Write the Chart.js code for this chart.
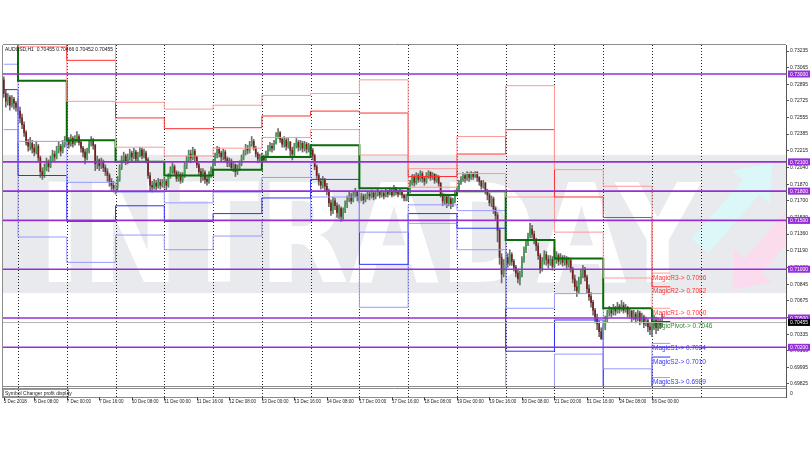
<!DOCTYPE html>
<html>
<head>
<meta charset="utf-8">
<script src="https://cdn.jsdelivr.net/npm/chart.js@4.4.1/dist/chart.umd.min.js"></script>
<style>
  html, body { margin: 0; padding: 0; background: #fff; }
  canvas { display: block; }
</style>
</head>
<body>
<canvas id="chartAud" width="810" height="450"></canvas>
<script>
// AUDUSD H1, 5 - 26 Dec 2018, with the daily "Magic" pivot levels

// first bar of each trading day (5 Dec is partial, 25 Dec is missing)
const dayStartBars = [0, 7, 31, 55, 79, 103, 127, 151, 175, 199, 223, 247, 271, 295, 319];
const levelEndBar = 328;

const r3Levels = [0.7445, 0.7425, 0.7355, 0.7271, 0.7264, 0.7268, 0.7278, 0.7280, 0.7294, 0.7203, 0.7236, 0.7288, 0.7202, 0.7185, 0.7096];
const r2Levels = [0.7419, 0.7390, 0.7314, 0.7255, 0.7244, 0.7245, 0.7257, 0.7262, 0.7260, 0.7195, 0.7218, 0.7243, 0.7174, 0.7153, 0.7082];
const r1Levels = [0.7378, 0.7328, 0.7272, 0.7225, 0.7216, 0.7224, 0.7235, 0.7243, 0.7217, 0.7184, 0.7198, 0.7174, 0.7138, 0.7091, 0.7060];
const pivotLevels = [0.7352, 0.7293, 0.7232, 0.7210, 0.7196, 0.7202, 0.7215, 0.7227, 0.7183, 0.7176, 0.7180, 0.7130, 0.7111, 0.7060, 0.7046];
const s1Levels = [0.7310, 0.7231, 0.7189, 0.7179, 0.7168, 0.7179, 0.7194, 0.7209, 0.7138, 0.7166, 0.7160, 0.7060, 0.7075, 0.6998, 0.7024];
const s2Levels = [0.7284, 0.7196, 0.7149, 0.7165, 0.7149, 0.7157, 0.7173, 0.7192, 0.7105, 0.7157, 0.7142, 0.7016, 0.7048, 0.6967, 0.7010];
const s3Levels = [0.7243, 0.7133, 0.7107, 0.7135, 0.7120, 0.7134, 0.7150, 0.7174, 0.7061, 0.7147, 0.7120, 0.6946, 0.7013, 0.6905, 0.6989];

// hourly candles, one line per day; each bar opens at the previous close
const firstOpen = 0.7294;
const closes = [
  0.7280, 0.7272, 0.7276, 0.7268, 0.7274, 0.7270, 0.7266,
  0.7262, 0.7255, 0.7248, 0.7240, 0.7230, 0.7226, 0.7229, 0.7224, 0.7220, 0.7226, 0.7214, 0.7200, 0.7196, 0.7203, 0.7209, 0.7205, 0.7212, 0.7218, 0.7215, 0.7222, 0.7226, 0.7221, 0.7228, 0.7230,
  0.7232, 0.7228, 0.7234, 0.7229, 0.7233, 0.7236, 0.7230, 0.7224, 0.7220, 0.7214, 0.7221, 0.7228, 0.7232, 0.7227, 0.7208, 0.7212, 0.7206, 0.7210, 0.7204, 0.7200, 0.7196, 0.7190, 0.7186, 0.7183,
  0.7183, 0.7192, 0.7204, 0.7212, 0.7216, 0.7210, 0.7214, 0.7219, 0.7215, 0.7220, 0.7213, 0.7217, 0.7222, 0.7216, 0.7219, 0.7212, 0.7196, 0.7186, 0.7184, 0.7188, 0.7185, 0.7189, 0.7186, 0.7188,
  0.7190, 0.7186, 0.7195, 0.7201, 0.7205, 0.7199, 0.7193, 0.7197, 0.7191, 0.7196, 0.7206, 0.7212, 0.7218, 0.7214, 0.7221, 0.7215, 0.7207, 0.7200, 0.7195, 0.7199, 0.7192, 0.7190, 0.7197, 0.7201,
  0.7208, 0.7216, 0.7223, 0.7219, 0.7215, 0.7220, 0.7213, 0.7209, 0.7211, 0.7204, 0.7207, 0.7200, 0.7203, 0.7208, 0.7214, 0.7219, 0.7224, 0.7222, 0.7228, 0.7231, 0.7224, 0.7218, 0.7213, 0.7214,
  0.7215, 0.7212, 0.7218, 0.7223, 0.7226, 0.7224, 0.7229, 0.7236, 0.7240, 0.7233, 0.7228, 0.7232, 0.7226, 0.7230, 0.7222, 0.7218, 0.7226, 0.7230, 0.7225, 0.7229, 0.7224, 0.7228, 0.7223, 0.7225,
  0.7222, 0.7216, 0.7205, 0.7196, 0.7190, 0.7186, 0.7191, 0.7185, 0.7180, 0.7168, 0.7160, 0.7170, 0.7165, 0.7158, 0.7162, 0.7154, 0.7160, 0.7166, 0.7171, 0.7175, 0.7170, 0.7176, 0.7179, 0.7174,
  0.7172, 0.7175, 0.7171, 0.7174, 0.7177, 0.7175, 0.7178, 0.7174, 0.7176, 0.7179, 0.7176, 0.7178, 0.7175, 0.7179, 0.7177, 0.7180, 0.7176, 0.7183, 0.7179, 0.7177, 0.7180, 0.7176, 0.7173, 0.7174,
  0.7180, 0.7188, 0.7194, 0.7189, 0.7196, 0.7192, 0.7198, 0.7193, 0.7190, 0.7196, 0.7199, 0.7194, 0.7197, 0.7191, 0.7195, 0.7188, 0.7176, 0.7170, 0.7174, 0.7168, 0.7172, 0.7166, 0.7170, 0.7178,
  0.7182, 0.7188, 0.7192, 0.7196, 0.7193, 0.7197, 0.7194, 0.7198, 0.7195, 0.7199, 0.7194, 0.7190, 0.7185, 0.7188, 0.7180, 0.7176, 0.7168, 0.7172, 0.7162, 0.7155, 0.7140, 0.7112, 0.7095, 0.7104,
  0.7112, 0.7106, 0.7115, 0.7108, 0.7102, 0.7096, 0.7090, 0.7094, 0.7110, 0.7120, 0.7127, 0.7134, 0.7141, 0.7136, 0.7130, 0.7124, 0.7114, 0.7100, 0.7108, 0.7115, 0.7110, 0.7106, 0.7110, 0.7103,
  0.7110, 0.7114, 0.7108, 0.7112, 0.7107, 0.7111, 0.7105, 0.7109, 0.7100, 0.7090, 0.7082, 0.7078, 0.7088, 0.7095, 0.7100, 0.7092, 0.7080, 0.7072, 0.7066, 0.7058, 0.7050, 0.7044, 0.7036, 0.7029,
  0.7040, 0.7048, 0.7055, 0.7058, 0.7055, 0.7060, 0.7057, 0.7062, 0.7059, 0.7063, 0.7058, 0.7061, 0.7054, 0.7057, 0.7050, 0.7054, 0.7049, 0.7055, 0.7047, 0.7051, 0.7044, 0.7047, 0.7041, 0.7038,
  0.7042, 0.7048, 0.7040, 0.7046, 0.7043, 0.70455, 0.70455
];
const highs = [
  0.7297, 0.7284, 0.7280, 0.7278, 0.7278, 0.7276, 0.7272,
  0.7275, 0.7266, 0.7259, 0.7251, 0.7242, 0.7233, 0.7235, 0.7232, 0.7228, 0.7231, 0.7228, 0.7216, 0.7204, 0.7208, 0.7214, 0.7212, 0.7216, 0.7222, 0.7221, 0.7226, 0.7231, 0.7228, 0.7232, 0.7236,
  0.7238, 0.7235, 0.7238, 0.7236, 0.7237, 0.7241, 0.7238, 0.7232, 0.7226, 0.7223, 0.7224, 0.7231, 0.7236, 0.7234, 0.7228, 0.7216, 0.7213, 0.7214, 0.7212, 0.7207, 0.7203, 0.7198, 0.7193, 0.7190,
  0.7186, 0.7195, 0.7207, 0.7216, 0.7220, 0.7218, 0.7218, 0.7223, 0.7221, 0.7224, 0.7222, 0.7220, 0.7225, 0.7224, 0.7223, 0.7221, 0.7214, 0.7199, 0.7190, 0.7192, 0.7191, 0.7193, 0.7192, 0.7192,
  0.7194, 0.7192, 0.7198, 0.7205, 0.7209, 0.7207, 0.7201, 0.7200, 0.7199, 0.7199, 0.7209, 0.7216, 0.7222, 0.7222, 0.7225, 0.7223, 0.7216, 0.7209, 0.7203, 0.7203, 0.7201, 0.7196, 0.7200, 0.7205,
  0.7212, 0.7219, 0.7226, 0.7225, 0.7221, 0.7223, 0.7222, 0.7215, 0.7214, 0.7213, 0.7210, 0.7208, 0.7207, 0.7211, 0.7217, 0.7222, 0.7228, 0.7227, 0.7231, 0.7236, 0.7233, 0.7226, 0.7220, 0.7218,
  0.7219, 0.7217, 0.7221, 0.7227, 0.7230, 0.7229, 0.7232, 0.7240, 0.7244, 0.7241, 0.7235, 0.7236, 0.7234, 0.7234, 0.7231, 0.7225, 0.7229, 0.7234, 0.7232, 0.7232, 0.7231, 0.7231, 0.7230, 0.7229,
  0.7227, 0.7224, 0.7218, 0.7207, 0.7198, 0.7193, 0.7195, 0.7193, 0.7188, 0.7182, 0.7171, 0.7174, 0.7173, 0.7168, 0.7166, 0.7164, 0.7163, 0.7170, 0.7175, 0.7179, 0.7178, 0.7180, 0.7183, 0.7180,
  0.7177, 0.7178, 0.7177, 0.7177, 0.7180, 0.7179, 0.7181, 0.7179, 0.7179, 0.7182, 0.7180, 0.7181, 0.7180, 0.7182, 0.7181, 0.7183, 0.7182, 0.7186, 0.7184, 0.7181, 0.7182, 0.7181, 0.7177, 0.7177,
  0.7182, 0.7191, 0.7197, 0.7197, 0.7199, 0.7198, 0.7201, 0.7200, 0.7195, 0.7199, 0.7201, 0.7200, 0.7199, 0.7198, 0.7197, 0.7196, 0.7189, 0.7178, 0.7177, 0.7176, 0.7175, 0.7174, 0.7173, 0.7181,
  0.7184, 0.7191, 0.7195, 0.7199, 0.7198, 0.7200, 0.7199, 0.7200, 0.7199, 0.7200, 0.7200, 0.7195, 0.7191, 0.7191, 0.7189, 0.7182, 0.7178, 0.7175, 0.7174, 0.7164, 0.7158, 0.7142, 0.7116, 0.7110,
  0.7118, 0.7116, 0.7120, 0.7117, 0.7110, 0.7104, 0.7099, 0.7098, 0.7113, 0.7123, 0.7130, 0.7137, 0.7147, 0.7145, 0.7139, 0.7132, 0.7127, 0.7116, 0.7112, 0.7119, 0.7118, 0.7114, 0.7114, 0.7113,
  0.7122, 0.7118, 0.7116, 0.7116, 0.7114, 0.7114, 0.7113, 0.7112, 0.7111, 0.7102, 0.7094, 0.7088, 0.7092, 0.7099, 0.7104, 0.7102, 0.7094, 0.7084, 0.7076, 0.7068, 0.7060, 0.7054, 0.7047, 0.7040,
  0.7044, 0.7052, 0.7058, 0.7062, 0.7061, 0.7064, 0.7062, 0.7066, 0.7064, 0.7068, 0.7066, 0.7064, 0.7062, 0.7060, 0.7058, 0.7058, 0.7056, 0.7058, 0.7057, 0.7055, 0.7053, 0.7051, 0.7049, 0.7045,
  0.7050, 0.7053, 0.7051, 0.7050, 0.7049, 0.7054, 0.70466
];
const lows = [
  0.7276, 0.7266, 0.7268, 0.7263, 0.7266, 0.7264, 0.7262,
  0.7258, 0.7250, 0.7244, 0.7236, 0.7227, 0.7221, 0.7222, 0.7219, 0.7216, 0.7218, 0.7210, 0.7194, 0.7192, 0.7194, 0.7201, 0.7200, 0.7204, 0.7210, 0.7211, 0.7213, 0.7219, 0.7216, 0.7219, 0.7225,
  0.7226, 0.7224, 0.7226, 0.7225, 0.7227, 0.7230, 0.7227, 0.7220, 0.7215, 0.7208, 0.7212, 0.7219, 0.7226, 0.7223, 0.7201, 0.7203, 0.7201, 0.7203, 0.7200, 0.7196, 0.7190, 0.7185, 0.7181, 0.7179,
  0.7177, 0.7181, 0.7190, 0.7202, 0.7209, 0.7207, 0.7208, 0.7212, 0.7211, 0.7213, 0.7210, 0.7211, 0.7215, 0.7213, 0.7214, 0.7209, 0.7193, 0.7180, 0.7179, 0.7182, 0.7181, 0.7183, 0.7182, 0.7184,
  0.7183, 0.7181, 0.7184, 0.7193, 0.7198, 0.7196, 0.7190, 0.7190, 0.7188, 0.7189, 0.7194, 0.7203, 0.7210, 0.7209, 0.7212, 0.7211, 0.7204, 0.7197, 0.7189, 0.7191, 0.7188, 0.7186, 0.7188, 0.7194,
  0.7199, 0.7206, 0.7214, 0.7215, 0.7211, 0.7212, 0.7210, 0.7205, 0.7205, 0.7201, 0.7200, 0.7195, 0.7197, 0.7201, 0.7206, 0.7212, 0.7217, 0.7218, 0.7219, 0.7226, 0.7222, 0.7215, 0.7209, 0.7210,
  0.7211, 0.7210, 0.7211, 0.7216, 0.7221, 0.7220, 0.7222, 0.7228, 0.7234, 0.7230, 0.7225, 0.7225, 0.7222, 0.7224, 0.7216, 0.7212, 0.7216, 0.7224, 0.7221, 0.7222, 0.7220, 0.7221, 0.7219, 0.7220,
  0.7218, 0.7212, 0.7202, 0.7193, 0.7186, 0.7182, 0.7183, 0.7180, 0.7176, 0.7164, 0.7155, 0.7157, 0.7161, 0.7153, 0.7152, 0.7149, 0.7151, 0.7158, 0.7163, 0.7169, 0.7167, 0.7169, 0.7174, 0.7170,
  0.7168, 0.7170, 0.7167, 0.7169, 0.7172, 0.7171, 0.7173, 0.7171, 0.7172, 0.7175, 0.7173, 0.7174, 0.7172, 0.7174, 0.7174, 0.7176, 0.7174, 0.7175, 0.7176, 0.7174, 0.7176, 0.7173, 0.7170, 0.7170,
  0.7170, 0.7178, 0.7186, 0.7185, 0.7187, 0.7189, 0.7190, 0.7189, 0.7186, 0.7188, 0.7193, 0.7191, 0.7192, 0.7188, 0.7189, 0.7185, 0.7174, 0.7165, 0.7166, 0.7163, 0.7165, 0.7162, 0.7164, 0.7168,
  0.7175, 0.7180, 0.7187, 0.7190, 0.7189, 0.7191, 0.7190, 0.7192, 0.7192, 0.7194, 0.7190, 0.7186, 0.7182, 0.7183, 0.7177, 0.7171, 0.7165, 0.7164, 0.7157, 0.7150, 0.7128, 0.7105, 0.7086, 0.7092,
  0.7098, 0.7102, 0.7104, 0.7104, 0.7098, 0.7092, 0.7086, 0.7084, 0.7092, 0.7107, 0.7117, 0.7124, 0.7132, 0.7132, 0.7126, 0.7119, 0.7110, 0.7096, 0.7098, 0.7105, 0.7104, 0.7101, 0.7104, 0.7099,
  0.7102, 0.7106, 0.7104, 0.7105, 0.7103, 0.7104, 0.7101, 0.7102, 0.7097, 0.7086, 0.7078, 0.7072, 0.7075, 0.7085, 0.7091, 0.7088, 0.7076, 0.7068, 0.7061, 0.7053, 0.7045, 0.7038, 0.7031, 0.7028,
  0.7028, 0.7038, 0.7046, 0.7052, 0.7051, 0.7053, 0.7053, 0.7055, 0.7055, 0.7057, 0.7055, 0.7056, 0.7051, 0.7051, 0.7046, 0.7048, 0.7045, 0.7047, 0.7043, 0.7045, 0.7040, 0.7042, 0.7036, 0.7033,
  0.7031, 0.7038, 0.7034, 0.7037, 0.7039, 0.7041, 0.70452
];

const timeTickBars = [0, 15, 31, 47, 63, 79, 95, 111, 127, 143, 159, 175, 191, 207, 223, 239, 255, 271, 287, 303, 319];
const timeTickLabels = ['5 Dec 2018', '6 Dec 08:00', '7 Dec 00:00', '7 Dec 16:00', '10 Dec 08:00', '11 Dec 00:00',
  '11 Dec 16:00', '12 Dec 08:00', '13 Dec 00:00', '13 Dec 16:00', '14 Dec 08:00', '17 Dec 00:00', '17 Dec 16:00',
  '18 Dec 08:00', '19 Dec 00:00', '19 Dec 16:00', '20 Dec 08:00', '21 Dec 00:00', '21 Dec 16:00', '24 Dec 08:00', '26 Dec 00:00'];
const separatorBars = [7, 31, 55, 79, 103, 127, 151, 175, 199, 223, 247, 271, 295, 319, 343];

const priceTicks = [0.73235, 0.73065, 0.72895, 0.72725, 0.72555, 0.72385, 0.72215, 0.72040, 0.71870, 0.71700,
  0.71530, 0.71360, 0.71190, 0.71020, 0.70845, 0.70675, 0.70505, 0.70335, 0.70165, 0.69995, 0.69825];
const roundLevels = [0.73000, 0.72100, 0.71800, 0.71500, 0.71000, 0.70500, 0.70200];
const bidPrice = 0.70455;
const lastBar = [0.70455, 0.70466, 0.70452, 0.70455];

const magicNames = ['MagicR3', 'MagicR2', 'MagicR1', 'MagicPivot', 'MagicS1', 'MagicS2', 'MagicS3'];

// colours
const bullColor = '#3aa84a';
const bearColor = '#7a1c1c';
const wickColor = '#6e6e6e';
const redSoft = '#ff9a9a';
const redHard = '#ff3030';
const blueSoft = '#9a9aff';
const blueHard = '#3030ff';
const pivotColor = '#0b6b0b';

const opens = closes.map((c, i) => i === 0 ? firstOpen : closes[i - 1]);
const wickData = closes.map((c, i) => ({ x: i, y: [lows[i], highs[i]] }));
const bodyData = closes.map((c, i) => ({ x: i, y: [opens[i], c] }));
const bodyColors = closes.map((c, i) => c >= opens[i] ? bullColor : bearColor);

function levelSteps(levels) {
    const pts = levels.map((v, k) => ({ x: dayStartBars[k], y: v }));
    pts.push({ x: levelEndBar, y: levels[levels.length - 1] });
    return pts;
}

function levelLine(levels, color, width) {
    return {
        type: 'line',
        data: levelSteps(levels),
        borderColor: color,
        borderWidth: width,
        pointRadius: 0,
        stepped: true,
        fill: false,
        order: 1
    };
}

function arrow(ctx, x0, y0, x1, y1, sw, hw, hl) {
    const len = Math.hypot(x1 - x0, y1 - y0);
    const dx = (x1 - x0) / len, dy = (y1 - y0) / len;
    const nx = -dy, ny = dx;
    const bx = x1 - dx * hl, by = y1 - dy * hl;
    ctx.beginPath();
    ctx.moveTo(x0 + nx * sw, y0 + ny * sw);
    ctx.lineTo(bx + nx * sw, by + ny * sw);
    ctx.lineTo(bx + nx * hw, by + ny * hw);
    ctx.lineTo(x1, y1);
    ctx.lineTo(bx - nx * hw, by - ny * hw);
    ctx.lineTo(bx - nx * sw, by - ny * sw);
    ctx.lineTo(x0 - nx * sw, y0 - ny * sw);
    ctx.closePath();
    ctx.fill();
}

// watermark, subwindow and day separators, behind the candles
const backLayer = {
    id: 'backLayer',
    beforeDatasetsDraw(chart) {
        const { ctx, chartArea: a, scales: { x } } = chart;
        ctx.save();
        ctx.beginPath();
        ctx.rect(a.left, a.top, a.right - a.left, a.bottom - a.top);
        ctx.clip();
        ctx.fillStyle = '#e8eaed';
        ctx.fillRect(a.left, 155, a.right - a.left, 138);
        ctx.fillStyle = '#dbf7f7';
        arrow(ctx, 700, 246, 772, 163, 11, 25, 32);
        ctx.fillStyle = '#fbdcef';
        arrow(ctx, 800, 212, 732, 290, 11, 25, 32);
        ctx.font = 'bold 137px "DejaVu Sans"';
        ctx.textBaseline = 'alphabetic';
        const w = ctx.measureText('INTRADAY').width;
        ctx.translate(38, 282);
        ctx.scale(662 / w, 1);
        ctx.fillStyle = '#ffffff';
        ctx.fillText('INTRADAY', 0, 0);
        ctx.restore();

        // subwindow "Symbol Changer profit display"
        ctx.save();
        ctx.strokeStyle = '#8c8c8c';
        ctx.lineWidth = 1;
        ctx.beginPath();
        ctx.moveTo(a.left, 388.5); ctx.lineTo(a.right, 388.5);
        ctx.moveTo(a.left, 397.5); ctx.lineTo(a.right, 397.5);
        ctx.moveTo(a.left - 0.5, a.top); ctx.lineTo(a.left - 0.5, 398);
        ctx.moveTo(a.left, a.top - 0.5); ctx.lineTo(a.right, a.top - 0.5);
        ctx.stroke();
        ctx.strokeStyle = '#555';
        ctx.beginPath();
        ctx.moveTo(a.right + 0.5, 386); ctx.lineTo(a.right + 0.5, 398);
        ctx.stroke();
        ctx.strokeStyle = '#9a9a9a';
        ctx.strokeRect(3.5, 389.5, 65, 7);
        ctx.fillStyle = '#222';
        ctx.font = '5px "Liberation Sans"';
        ctx.textBaseline = 'middle';
        ctx.fillText('Symbol Changer profit display', 5, 393.2);
        ctx.fillText('0', a.right + 4, 393.2);

        // tick marks under the subwindow
        ctx.strokeStyle = '#333';
        ctx.beginPath();
        timeTickBars.forEach(b => {
            const px = Math.round(x.getPixelForValue(b)) + 0.5;
            ctx.moveTo(px, 397.5); ctx.lineTo(px, 400.5);
        });
        ctx.stroke();

        // period separators
        ctx.strokeStyle = '#222';
        ctx.setLineDash([1, 2]);
        ctx.beginPath();
        separatorBars.forEach(b => {
            const px = Math.round(x.getPixelForValue(b)) + 0.5;
            ctx.moveTo(px, a.top); ctx.lineTo(px, 397);
        });
        ctx.stroke();
        ctx.restore();
    }
};

// round number lines, bid line and the level labels, over the candles
const frontLayer = {
    id: 'frontLayer',
    afterDatasetsDraw(chart) {
        const { ctx, chartArea: a, scales: { x, y } } = chart;
        ctx.save();
        ctx.beginPath();
        ctx.rect(a.left, a.top, a.right - a.left, a.bottom - a.top);
        ctx.clip();
        ctx.strokeStyle = '#b4b4b4';
        ctx.lineWidth = 1;
        ctx.beginPath();
        const by = Math.round(y.getPixelForValue(bidPrice)) + 0.5;
        ctx.moveTo(a.left, by); ctx.lineTo(a.right, by);
        ctx.stroke();
        ctx.strokeStyle = '#9530d6';
        ctx.lineWidth = 1.6;
        ctx.beginPath();
        roundLevels.forEach(v => {
            const py = y.getPixelForValue(v);
            ctx.moveTo(a.left, py); ctx.lineTo(a.right, py);
        });
        ctx.stroke();

        const lastLevels = [r3Levels, r2Levels, r1Levels, pivotLevels, s1Levels, s2Levels, s3Levels].map(l => l[l.length - 1]);
        const labelColors = ['#ff3434', '#ff3434', '#ff3434', '#2b8a2b', '#3434ff', '#3434ff', '#3434ff'];
        const lx = x.getPixelForValue(dayStartBars[dayStartBars.length - 1]) + 1;
        ctx.font = '6.5px "Liberation Sans"';
        ctx.textBaseline = 'top';
        magicNames.forEach((n, k) => {
            ctx.fillStyle = labelColors[k];
            ctx.fillText(n + '-> ' + lastLevels[k].toFixed(4), lx, y.getPixelForValue(lastLevels[k]) + 1.5);
        });
        ctx.restore();
    },
    afterDraw(chart) {
        const { ctx, chartArea: a, scales: { y } } = chart;
        ctx.save();
        ctx.font = '5px "Liberation Sans"';
        ctx.textBaseline = 'middle';
        const tag = (v, bg) => {
            const py = y.getPixelForValue(v);
            ctx.fillStyle = bg;
            ctx.fillRect(a.right + 2, py - 3.5, 810 - a.right - 2, 7);
            ctx.fillStyle = '#fff';
            ctx.fillText(v.toFixed(5), a.right + 4, py + 0.3);
        };
        roundLevels.forEach(v => tag(v, '#9530d6'));
        tag(bidPrice, '#000');

        ctx.fillStyle = '#111';
        ctx.fillText('AUDUSD,H1  ' + lastBar.map(v => v.toFixed(5)).join(' '), 5, 49.5);
        ctx.restore();
    }
};

const configAud = document.getElementById('chartAud');

new Chart(configAud, {
    type: 'bar',
    data: {
        datasets: [
            levelLine(r3Levels, redSoft, 1),
            levelLine(r2Levels, redHard, 1),
            levelLine(r1Levels, redSoft, 1),
            levelLine(pivotLevels, pivotColor, 2),
            levelLine(s1Levels, blueSoft, 1),
            levelLine(s2Levels, blueHard, 1),
            levelLine(s3Levels, blueSoft, 1),
            {
                type: 'bar',
                data: bodyData,
                backgroundColor: bodyColors,
                barThickness: 1,
                grouped: false,
                order: 2
            },
            {
                type: 'bar',
                data: wickData,
                backgroundColor: wickColor,
                barThickness: 1,
                grouped: false,
                order: 3
            }
        ]
    },
    options: {
        responsive: false,
        animation: false,
        devicePixelRatio: 1,
        layout: { padding: { top: 45, left: 3, right: 0, bottom: 0 } },
        scales: {
            x: {
                type: 'linear',
                min: -0.384,
                max: 384.95,
                bounds: 'data',
                offset: false,
                afterBuildTicks: s => { s.ticks = timeTickBars.map(v => ({ value: v })); },
                afterFit: s => { s.height = 64; },
                grid: { display: false, drawTicks: true, tickLength: 13 },
                border: { display: true, color: '#8c8c8c' },
                ticks: {
                    autoSkip: false,
                    maxRotation: 0,
                    align: 'start',
                    padding: 0,
                    color: '#222',
                    font: { family: 'Liberation Sans', size: 4.5 },
                    callback: (v, i) => timeTickLabels[i]
                }
            },
            y: {
                type: 'linear',
                position: 'right',
                min: 0.698036,
                max: 0.732971,
                bounds: 'data',
                afterBuildTicks: s => { s.ticks = priceTicks.map(v => ({ value: v })); },
                afterFit: s => { s.width = 24; },
                grid: { drawOnChartArea: false, drawTicks: true, tickLength: 3, color: '#555' },
                border: { display: true, color: '#555' },
                ticks: {
                    autoSkip: false,
                    padding: 1,
                    color: '#222',
                    font: { family: 'Liberation Sans', size: 5 },
                    callback: v => v.toFixed(5)
                }
            }
        },
        plugins: {
            legend: { display: false },
            tooltip: { enabled: false }
        }
    },
    plugins: [backLayer, frontLayer]
});
</script>
</body>
</html>
